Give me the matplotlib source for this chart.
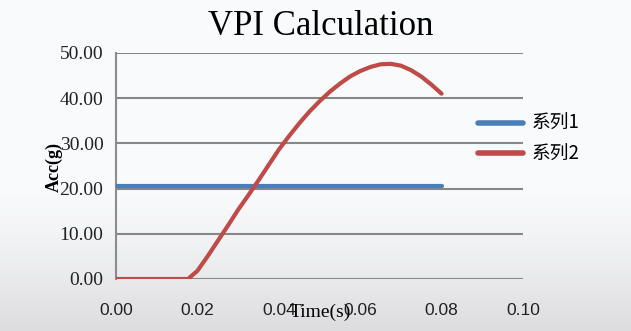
import numpy as np
import matplotlib.pyplot as plt

plt.rcParams['font.family'] = ['Liberation Serif', 'Noto Sans CJK SC']

# series 1: constant level
t1 = [0.0, 0.08]
acc1 = [20.5, 20.5]

# series 2
t2 = [0.0, 0.0177, 0.0200, 0.0225, 0.0250, 0.0275, 0.0300, 0.0325, 0.0350,
      0.0375, 0.0400, 0.0425, 0.0450, 0.0475, 0.0500, 0.0525, 0.0550, 0.0575,
      0.0600, 0.0625, 0.0650, 0.0675, 0.0700, 0.0725, 0.0750, 0.0775, 0.0800]
acc2 = [0.0, 0.0, 1.8, 5.0, 8.4, 11.8, 15.3, 18.5, 21.8,
        25.2, 28.6, 31.6, 34.4, 37.0, 39.3, 41.4, 43.2, 44.8,
        46.0, 46.9, 47.5, 47.6, 47.2, 46.2, 44.8, 43.0, 41.0]

labels = ["系列1", "系列2"]
xticks = [0.00, 0.02, 0.04, 0.06, 0.08, 0.10]
yticks = [0, 10, 20, 30, 40, 50]

fig = plt.figure(figsize=(6.31, 3.31), dpi=100)

# background gradient (light at top, grey toward the bottom)
bg = fig.add_axes([0, 0, 1, 1], zorder=-10)
g = np.concatenate([np.zeros(55), np.linspace(0, 1, 45) ** 1.3])
top = np.array([0.980, 0.984, 0.992])
bot = np.array([0.867, 0.867, 0.875])
img = top[None, :] + g[:, None] * (bot - top)[None, :]
bg.imshow(img[:, None, :], aspect='auto', extent=[0, 1, 0, 1])
bg.axis('off')

ax = fig.add_axes([0.1838, 0.1571, 0.6450, 0.6828])
ax.patch.set_alpha(0)

ax.plot(t1, acc1, color='#4A7EBB', lw=3, solid_capstyle='round', label=labels[0], zorder=3)
ax.plot(t2, acc2, color='#BE4B48', lw=3, solid_capstyle='round',
        solid_joinstyle='round', label=labels[1], zorder=3)

ax.set_xlim(0, 0.10)
ax.set_ylim(0, 50)
ax.set_xticks(xticks)
ax.set_yticks(yticks)
ax.set_xticklabels([f"{v:.2f}" for v in xticks], family='Liberation Sans', fontsize=12.5)
ax.set_yticklabels([f"{v:.2f}" for v in yticks], fontsize=14)
ax.tick_params(axis='both', length=0, colors='#222222')
ax.tick_params(axis='x', pad=17)
ax.tick_params(axis='y', pad=9)

ax.grid(axis='y', color='#878787', lw=1.5)
ax.set_axisbelow(True)
for s in ['top', 'right', 'bottom']:
    ax.spines[s].set_visible(False)
ax.spines['left'].set_color('#8c8c8c')
ax.spines['left'].set_linewidth(1.5)

ax.set_title("VPI Calculation", fontsize=25, x=0.504, y=1.08, pad=0)
ax.set_xlabel("Time(s)", fontsize=14, va='center')
ax.xaxis.set_label_coords(0.501, -0.146)
ax.set_ylabel("Acc(g)", fontsize=13, fontweight='bold', va='center')
ax.yaxis.set_label_coords(-0.152, 0.496)

leg = ax.legend(loc='upper left', bbox_to_anchor=(0.7575, 0.658),
                bbox_transform=fig.transFigure, frameon=False, borderpad=0,
                borderaxespad=0, handlelength=2.4, handletextpad=0.48,
                labelspacing=0.52, prop={'family': ['Noto Sans CJK SC'], 'size': 13.5})
for h in leg.get_lines():
    h.set_linewidth(4)

fig.savefig("out.png", dpi=100)
